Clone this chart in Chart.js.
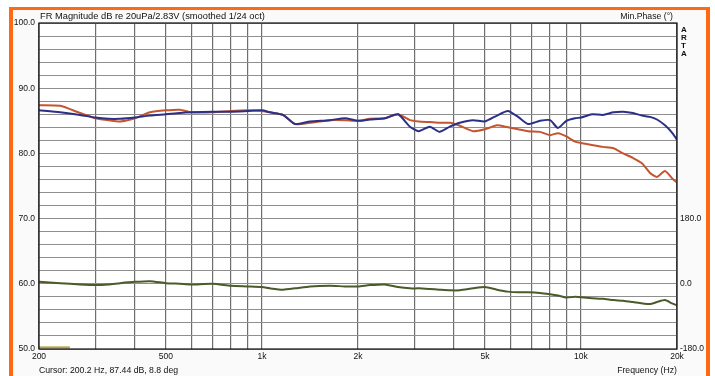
<!DOCTYPE html>
<html>
<head>
<meta charset="utf-8">
<script src="https://cdn.jsdelivr.net/npm/chart.js@4"></script>
<style>
  html, body { margin: 0; padding: 0; background: #fff; }
  #wrap { position: relative; width: 715px; height: 376px; }
</style>
</head>
<body>
<div id="wrap"><canvas id="fr" width="715" height="376"></canvas></div>
<script>
// frequency points (Hz)
const freqs = [200, 233, 269, 300, 330, 359, 400, 446, 500, 553, 600, 700, 800, 900, 1000,
  1060, 1164, 1270, 1414, 1634, 1820, 2000, 2180, 2430, 2670, 2910, 3100, 3360, 3600, 3880,
  4170, 4590, 5000, 5450, 5900, 6350, 6820, 7440, 8000, 8470, 9000, 9580, 10000, 10830,
  11720, 12650, 13550, 14550, 15530, 16460, 17310, 18340, 19290, 20000];

// magnitude, dB
const redDb = [87.4, 87.3, 86.2, 85.4, 85.1, 84.9, 85.4, 86.3, 86.6, 86.7, 86.3, 86.3, 86.5, 86.6, 86.5,
  86.3, 85.9, 84.5, 84.7, 85.1, 85.1, 85.0, 85.3, 85.4, 86.0, 85.1, 84.9, 84.8, 84.7, 84.7,
  84.25, 83.4, 83.7, 84.3, 84.0, 83.7, 83.4, 83.3, 82.8, 83.1, 82.6, 81.8, 81.6, 81.3,
  81.0, 80.8, 80.0, 79.3, 78.5, 77.0, 76.4, 77.3, 76.2, 75.5];

const blueDb = [86.6, 86.3, 85.9, 85.5, 85.3, 85.3, 85.5, 85.8, 86.0, 86.2, 86.3, 86.4, 86.4, 86.5, 86.6,
  86.3, 85.9, 84.5, 84.9, 85.1, 85.4, 85.0, 85.2, 85.4, 86.0, 84.1, 83.4, 84.1, 83.3, 84.1,
  84.7, 85.1, 84.9, 85.8, 86.5, 85.6, 84.5, 85.0, 85.1, 83.9, 85.0, 85.4, 85.5, 86.0,
  85.9, 86.3, 86.4, 86.2, 85.8, 85.6, 85.2, 84.3, 83.2, 82.1];

// min. phase curve, drawn on the dB grid (60 dB line = 0 deg)
const phaseDb = [60.3, 60.1, 59.9, 59.8, 59.9, 60.1, 60.3, 60.4, 60.1, 60.0, 59.9, 60.0, 59.7, 59.6, 59.5,
  59.3, 59.1, 59.3, 59.6, 59.7, 59.6, 59.6, 59.8, 59.9, 59.5, 59.3, 59.3, 59.2, 59.1, 59.0,
  59.0, 59.3, 59.5, 59.1, 58.8, 58.7, 58.7, 58.6, 58.4, 58.2, 57.9, 58.0, 57.95, 57.8,
  57.7, 57.5, 57.4, 57.2, 57.0, 56.9, 57.2, 57.5, 57.0, 56.7];

// cursor marker at the bottom left
const markerFreqs = [200, 250];
const markerDb = [50.25, 50.25];

// axis ticks
const xGrid = [200, 300, 400, 500, 600, 700, 800, 900, 1000, 2000, 3000, 4000, 5000, 6000,
  7000, 8000, 9000, 10000, 20000];
const xLabels = { 200: '200', 500: '500', 1000: '1k', 2000: '2k', 5000: '5k', 10000: '10k', 20000: '20k' };
const phaseLabels = { 70: '180.0', 60: '0.0', 50: '-180.0' };

const FONT = '"Liberation Sans", Arial, sans-serif';
const pts = (xs, ys) => xs.map((f, i) => ({ x: f, y: ys[i] }));

const frame = {
  id: 'frame',
  beforeDraw(chart) {
    const { ctx, chartArea: a } = chart;
    ctx.save();
    ctx.fillStyle = '#ffffff';
    ctx.fillRect(0, 0, chart.width, chart.height);
    ctx.fillStyle = '#fafafa';
    ctx.fillRect(13, 10, 694, 366);
    ctx.fillStyle = '#ff6a10';
    ctx.fillRect(9, 7, 4, 369);
    ctx.fillRect(9, 7, 701, 3);
    ctx.fillRect(706, 7, 4, 369);
    ctx.fillStyle = '#ffffff';
    ctx.fillRect(a.left, a.top, a.right - a.left, a.bottom - a.top);
    ctx.restore();
  },
  afterDraw(chart) {
    const { ctx, chartArea: a } = chart;
    ctx.save();
    ctx.strokeStyle = '#111';
    ctx.lineWidth = 1.2;
    ctx.strokeRect(a.left, a.top, a.right - a.left, a.bottom - a.top);
    ctx.fillStyle = '#111';
    ctx.textBaseline = 'alphabetic';
    ctx.textAlign = 'left';
    ctx.font = '9.3px ' + FONT;
    ctx.fillText('FR Magnitude dB re 20uPa/2.83V (smoothed 1/24 oct)', 40, 19);
    ctx.font = '8.7px ' + FONT;
    ctx.fillText('Cursor: 200.2 Hz, 87.44 dB, 8.8 deg', 39, 373);
    ctx.textAlign = 'right';
    ctx.fillText('Min.Phase (\u00b0)', 673, 19);
    ctx.fillText('Frequency (Hz)', 677, 373);
    ctx.textAlign = 'left';
    ctx.font = 'bold 8px ' + FONT;
    ['A', 'R', 'T', 'A'].forEach((ch, i) => ctx.fillText(ch, 681, 32 + i * 8));
    ctx.restore();
  }
};

new Chart(document.getElementById('fr').getContext('2d'), {
  type: 'line',
  data: {
    datasets: [
      { data: pts(freqs, blueDb), borderColor: '#2c2f88', borderWidth: 2 },
      { data: pts(freqs, redDb), borderColor: '#c4562f', borderWidth: 2 },
      { data: pts(freqs, phaseDb), borderColor: '#4a5a2a', borderWidth: 2 },
      { data: pts(markerFreqs, markerDb), borderColor: '#b3a640', borderWidth: 2 }
    ]
  },
  options: {
    responsive: false,
    animation: false,
    layout: { padding: { top: 23, left: 0, right: 0, bottom: 0 } },
    elements: { point: { radius: 0 }, line: { tension: 0.2 } },
    plugins: { legend: { display: false }, tooltip: { enabled: false } },
    scales: {
      x: {
        type: 'logarithmic',
        min: 200,
        max: 20000,
        afterBuildTicks: s => { s.ticks = xGrid.map(v => ({ value: v })); },
        afterFit: s => { s.height = 27; },
        grid: { color: '#6e6e6e', lineWidth: 1.2, drawTicks: false },
        border: { display: false },
        ticks: {
          autoSkip: false, maxRotation: 0, padding: 3,
          color: '#111', font: { family: FONT, size: 8.5 },
          callback: v => xLabels[v] || ''
        }
      },
      y: {
        min: 50,
        max: 100,
        afterFit: s => { s.width = 39; },
        grid: { color: '#8f8f8f', lineWidth: 1, drawTicks: false },
        border: { display: false },
        ticks: {
          stepSize: 2, autoSkip: false, padding: 4, color: '#111', font: { family: FONT, size: 8.5 },
          callback: v => (Math.round(v) % 10 === 0 ? v.toFixed(1) : '')
        }
      },
      y2: {
        position: 'right',
        min: 50,
        max: 100,
        afterFit: s => { s.width = 38; },
        grid: { display: false, drawTicks: false },
        border: { display: false },
        ticks: {
          stepSize: 10, autoSkip: false, padding: 3, color: '#111', font: { family: FONT, size: 8.5 },
          callback: v => phaseLabels[v] || ''
        }
      }
    }
  },
  plugins: [frame]
});
</script>
</body>
</html>
